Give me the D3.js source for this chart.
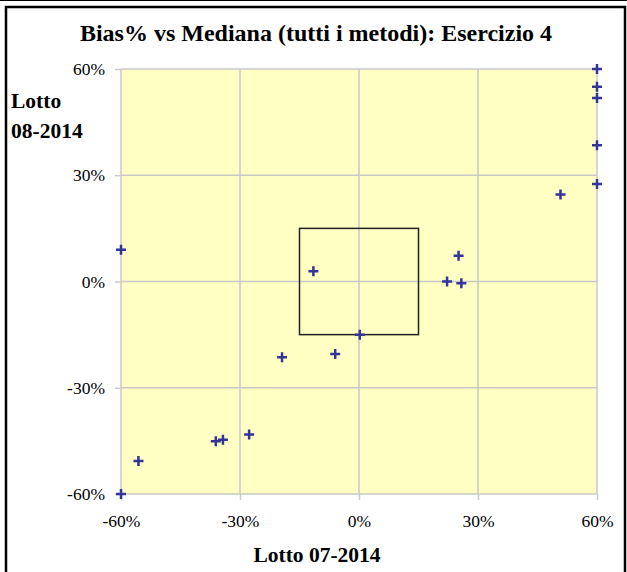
<!DOCTYPE html>
<html lang="en">
<head>
    <meta charset="UTF-8">
    <title>Bias% vs Mediana</title>
    <style>
        body { margin: 0; background: #fff; }
        svg text { font-family: "Liberation Serif", "Times New Roman", serif; }
    </style>
    <script src="https://d3js.org/d3.v7.min.js"></script>
</head>
<body>
    <div id="chart"></div>
    <script>
        // bias % of each lab: lot 07-2014 (x) vs lot 08-2014 (y)
        const lotto07 = [-60, -11.5, 0.2, -6.0, -19.4, 22.2, 25.1, 25.8, 50.8, 60, 60, 60, 60, 60, -55.6, -36.1, -34.3, -27.7, -60];
        const lotto08 = [9, 2.9, -15.0, -20.5, -21.4, 0, 7.3, -0.5, 24.6, 60, 55, 51.8, 38.5, 27.5, -50.7, -45.1, -44.7, -43.2, -60];
        const tickValues = [-60, -30, 0, 30, 60];
        const boxLimit = 15; // acceptance square +/-15%

        const W = 627, H = 572;
        const plot = {left: 121, right: 597, top: 69, bottom: 494};

        const svg = d3.select("#chart").append("svg")
            .attr("width", W)
            .attr("height", H);

        // outer frame
        svg.append("line")
            .attr("x1", 0).attr("x2", W).attr("y1", 0.5).attr("y2", 0.5)
            .attr("stroke", "#000").attr("stroke-width", 1);
        svg.append("rect")
            .attr("x", 6).attr("y", 7)
            .attr("width", 619).attr("height", H + 10)
            .attr("fill", "#fff")
            .attr("stroke", "#000").attr("stroke-width", 2.5);

        const x = d3.scaleLinear().domain([-60, 60]).range([plot.left, plot.right]);
        const y = d3.scaleLinear().domain([-60, 60]).range([plot.bottom, plot.top]);

        // plot area
        svg.append("rect")
            .attr("x", plot.left).attr("y", plot.top)
            .attr("width", plot.right - plot.left)
            .attr("height", plot.bottom - plot.top)
            .attr("fill", "#ffffc4");

        // grid lines
        svg.append("g").selectAll("line")
            .data(tickValues)
            .enter().append("line")
            .attr("x1", d => x(d)).attr("x2", d => x(d))
            .attr("y1", plot.top).attr("y2", plot.bottom)
            .attr("stroke", "#c8c8c8").attr("stroke-width", 1.5);
        svg.append("g").selectAll("line")
            .data(tickValues)
            .enter().append("line")
            .attr("y1", d => y(d)).attr("y2", d => y(d))
            .attr("x1", plot.left).attr("x2", plot.right)
            .attr("stroke", "#c8c8c8").attr("stroke-width", 1.5);

        const fmt = d => d + "%";

        const xAxis = svg.append("g")
            .attr("transform", `translate(0,${plot.bottom})`)
            .call(d3.axisBottom(x).tickValues(tickValues).tickFormat(fmt).tickSize(6).tickPadding(15));
        const yAxis = svg.append("g")
            .attr("transform", `translate(${plot.left},0)`)
            .call(d3.axisLeft(y).tickValues(tickValues).tickFormat(fmt).tickSize(6).tickPadding(10));

        [xAxis, yAxis].forEach(a => {
            a.select(".domain").remove();
            a.selectAll(".tick line").attr("stroke", "#c8c8c8").attr("stroke-width", 1.5);
            a.selectAll(".tick text")
                .attr("fill", "#000")
                .style("font-size", "17.5px")
                .style("font-family", "'Liberation Serif', serif");
        });
        xAxis.selectAll(".tick text").attr("dy", "0.71em");

        // +/-15% square
        svg.append("rect")
            .attr("x", x(-boxLimit)).attr("y", y(boxLimit))
            .attr("width", x(boxLimit) - x(-boxLimit))
            .attr("height", y(-boxLimit) - y(boxLimit))
            .attr("fill", "none")
            .attr("stroke", "#222").attr("stroke-width", 1.5);

        // plus markers
        const pts = lotto07.map((v, i) => ({x: v, y: lotto08[i]}));
        const s = 5;
        svg.append("g").selectAll("path")
            .data(pts)
            .enter().append("path")
            .attr("d", d => {
                const cx = x(d.x), cy = y(d.y);
                return `M${cx - s},${cy}H${cx + s}M${cx},${cy - s}V${cy + s}`;
            })
            .attr("stroke", "#333399")
            .attr("stroke-width", 2.5)
            .attr("fill", "none");

        // titles
        svg.append("text")
            .attr("x", 316).attr("y", 41)
            .attr("text-anchor", "middle")
            .style("font-size", "24px").style("font-weight", "bold")
            .text("Bias% vs Mediana (tutti i metodi): Esercizio 4");

        const yt = svg.append("text")
            .attr("x", 11).attr("y", 108)
            .style("font-size", "21.5px").style("font-weight", "bold");
        yt.append("tspan").attr("x", 11).text("Lotto");
        yt.append("tspan").attr("x", 11).attr("dy", 30).text("08-2014");

        svg.append("text")
            .attr("x", 317).attr("y", 562)
            .attr("text-anchor", "middle")
            .style("font-size", "21.5px").style("font-weight", "bold")
            .text("Lotto 07-2014");
    </script>
</body>
</html>
